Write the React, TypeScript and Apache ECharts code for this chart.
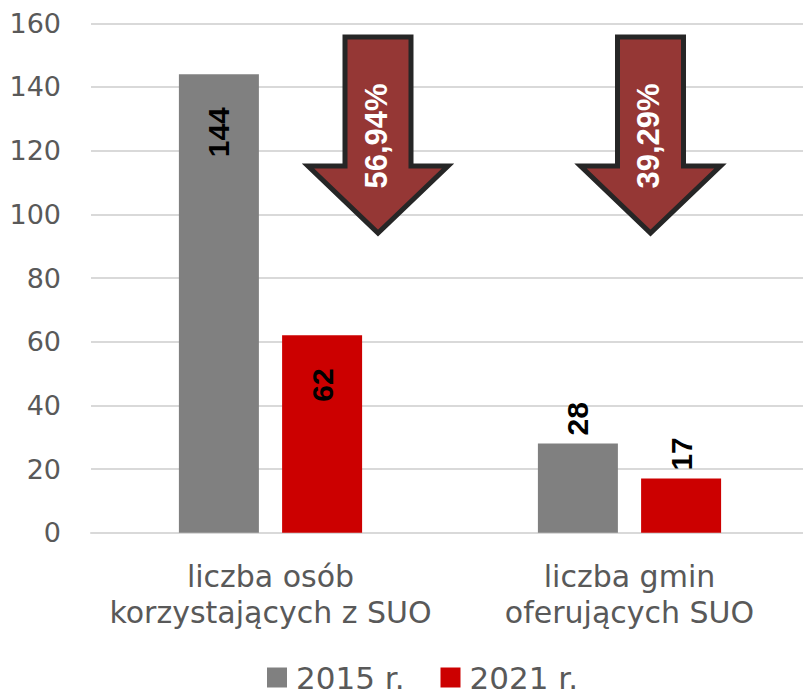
import React, { useEffect, useRef } from "react";
import * as echarts from "echarts";

const categories = ["liczba osób\nkorzystających z SUO", "liczba gmin\noferujących SUO"];
const seriesNames = ["2015 r.", "2021 r."];
const values2015 = [144, 28];
const values2021 = [62, 17];
const changeLabels = ["56,94%", "39,29%"];
const yTicks = { min: 0, max: 160, interval: 20 };

const GRAY = "#808080";
const RED = "#CC0000";
const ARROW_FILL = "#953735";
const ARROW_STROKE = "#262626";
const TEXT = "#595959";
const FONT = "DejaVu Sans";
const BOLD_FONT = "Liberation Sans";

function arrow(cx: number, label: string) {
  const top = 37;
  const shoulder = 166;
  const tip = 233;
  const sh = 33;
  const hh = 70;
  return [
    {
      type: "polygon",
      shape: {
        points: [
          [cx - sh, top],
          [cx + sh, top],
          [cx + sh, shoulder],
          [cx + hh, shoulder],
          [cx, tip],
          [cx - hh, shoulder],
          [cx - sh, shoulder],
        ],
      },
      style: { fill: ARROW_FILL, stroke: ARROW_STROKE, lineWidth: 5, lineJoin: "miter" },
      z: 10,
    },
    {
      type: "text",
      x: cx - 2,
      y: 136,
      rotation: Math.PI / 2,
      style: {
        text: label,
        fill: "#ffffff",
        font: `bold 31px "${BOLD_FONT}"`,
        textAlign: "center",
        textVerticalAlign: "middle",
      },
      z: 11,
    },
  ];
}

export default function App() {
  const ref = useRef<HTMLDivElement>(null);
  useEffect(() => {
    if (!ref.current) return;
    const chart = echarts.init(ref.current, undefined, { renderer: "svg" });
    const baseLabel = {
      show: true,
      rotate: 90,
      fontSize: 30,
      fontWeight: "bold",
      color: "#000000",
      fontFamily: BOLD_FONT,
    };
    const inside = { position: "insideTop", distance: 33, align: "right", verticalAlign: "middle" };
    const above = { position: "top", distance: 8, align: "left", verticalAlign: "middle" };
    const mk = (vals: number[]) =>
      vals.map((v) => ({ value: v, label: v > 40 ? inside : above }));
    chart.setOption({
      animation: false,
      grid: { left: 91, right: -6, top: 23.3, bottom: 165.3, outerBoundsMode: "none", containLabel: false },
      legend: {
        data: seriesNames,
        top: 657,
        left: 262,
        icon: "rect",
        itemWidth: 20,
        itemHeight: 20,
        itemGap: 36,
        textStyle: { fontSize: 31, color: TEXT, fontFamily: FONT, padding: [0, 0, 0, 4] },
      },
      xAxis: {
        type: "category",
        data: categories,
        axisLine: { lineStyle: { color: "#D9D9D9", width: 2 } },
        axisTick: { show: false },
        axisLabel: { interval: 0, fontSize: 30, color: TEXT, fontFamily: FONT, lineHeight: 36, margin: 26 },
      },
      yAxis: {
        type: "value",
        min: yTicks.min,
        max: yTicks.max,
        interval: yTicks.interval,
        axisLine: { show: false },
        axisTick: { show: false },
        splitLine: { lineStyle: { color: "#D9D9D9", width: 2 } },
        axisLabel: { fontSize: 27, color: TEXT, fontFamily: FONT, margin: 30 },
      },
      series: [
        {
          name: seriesNames[0],
          type: "bar",
          data: mk(values2015),
          barWidth: 80,
          barGap: "29%",
          itemStyle: { color: GRAY },
          label: baseLabel,
        },
        {
          name: seriesNames[1],
          type: "bar",
          data: mk(values2021),
          barWidth: 80,
          barGap: "29%",
          itemStyle: { color: RED },
          label: baseLabel,
        },
      ],
      graphic: [...arrow(378, changeLabels[0]), ...arrow(650.5, changeLabels[1])],
    });
    return () => chart.dispose();
  }, []);
  return (
    <div
      ref={ref}
      style={{ position: "fixed", left: 0, top: 0, width: 803, height: 698, background: "#fff" }}
    />
  );
}
